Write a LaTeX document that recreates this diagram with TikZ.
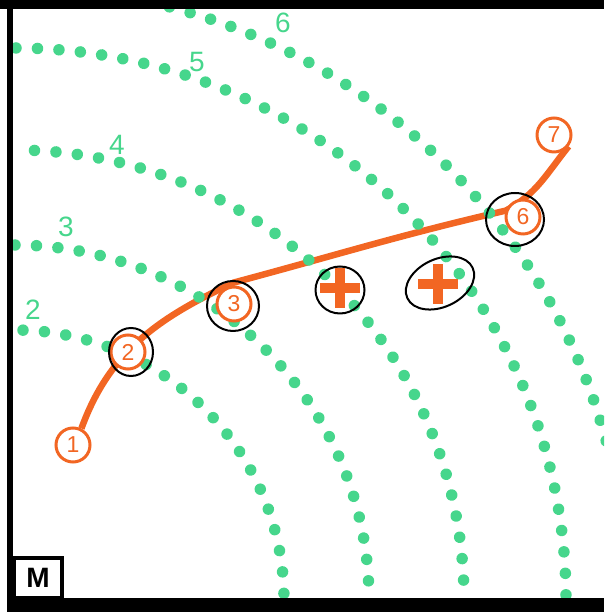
\documentclass[tikz,border=0pt]{standalone}
\usepackage{fontspec}
\setmainfont{Liberation Sans}
\usetikzlibrary{positioning,backgrounds}
\definecolor{wavegreen}{RGB}{70,214,140}
\definecolor{routeorange}{RGB}{242,102,35}

\begin{document}
\begin{tikzpicture}[x=1pt,y=1pt,
  isoline/.style={draw=wavegreen,line width=11.5pt,line cap=round,dash pattern=on 0.01pt off 21.49pt},
  isolabel/.style={text=wavegreen,inner sep=0pt,font=\fontsize{28}{28}\selectfont},
  waypt/.style={circle,draw=routeorange,line width=3pt,fill=white,text=routeorange,minimum size=34pt,inner sep=0pt,font=\fontsize{23}{23}\selectfont},
  route/.style={draw=routeorange,line width=6.5pt},
  ring/.style={draw=black,line width=2pt},
  plusmark/.style={draw=routeorange,line width=10.5pt},
  mbox/.style={draw=black,fill=white,line width=4pt,minimum width=48pt,minimum height=40pt,inner sep=0pt,font=\bfseries\fontsize{28}{28}\selectfont}]
\useasboundingbox (0,0) rectangle (604,612);

% frame
\fill (0,603) rectangle (604,612);
\fill (7,0) rectangle (13,612);
\fill (7,0) rectangle (604,14);

% stops along the route
\node[waypt] (n1) at (73,167) {1};
\node[waypt] (n2) at (128,260) {2};
\node[waypt] (n3) at (234,308) {3};
\node[waypt] (n6) at (523,395) {6};
\node[waypt] (n7) at (554,477) {7};

\begin{scope}[on background layer]
\draw[route] (n1.63) to[out=70,in=205] ([yshift=3pt]n3.north)
  to[out=15,in=193] (n6.160) to[out=28,in=231] (n7.-38);
% dotted fronts
\coordinate (o) at (14,12);
\begin{scope}
\clip (13,14) rectangle (604,603);
\foreach \r/\ph in {270/12.5,355/20.5,450/1,552/19.5,613/14.9}
  \draw[isoline,dash phase=\ph pt] (o) ++(90:\r) arc[start angle=90,end angle=0,radius=\r];
\end{scope}
\end{scope}

\node[isolabel] (l2) at (33,302) {2};
\node[isolabel] (l3) at (66,385) {3};
\node[isolabel] (l4) at (117,467) {4};
\node[isolabel] (l5) at (197,550) {5};
\node[isolabel] (l6) at (283,589) {6};

% rings
\draw[ring] (131,260) ellipse [x radius=22,y radius=24];
\draw[ring] (233,306) ellipse [x radius=26,y radius=25];
\draw[ring] (515,392.5) ellipse [x radius=29,y radius=26.5];
\draw[ring] (340,322) ellipse [x radius=24.5,y radius=23.5];
\draw[ring,rotate around={25:(440,329)}] (440,329) ellipse [x radius=36,y radius=24];

% plus marks
\coordinate (pa) at (340,324);
\coordinate (pb) at (438,328);
\draw[plusmark] (pa) ++(-20,0) -- ++(40,0) (pa) ++(0,-20) -- ++(0,40);
\draw[plusmark] (pb) ++(-20,0) -- ++(40,0) (pb) ++(0,-20) -- ++(0,40);

\node[mbox] (m) at (38,34) {M};
\end{tikzpicture}
\end{document}
